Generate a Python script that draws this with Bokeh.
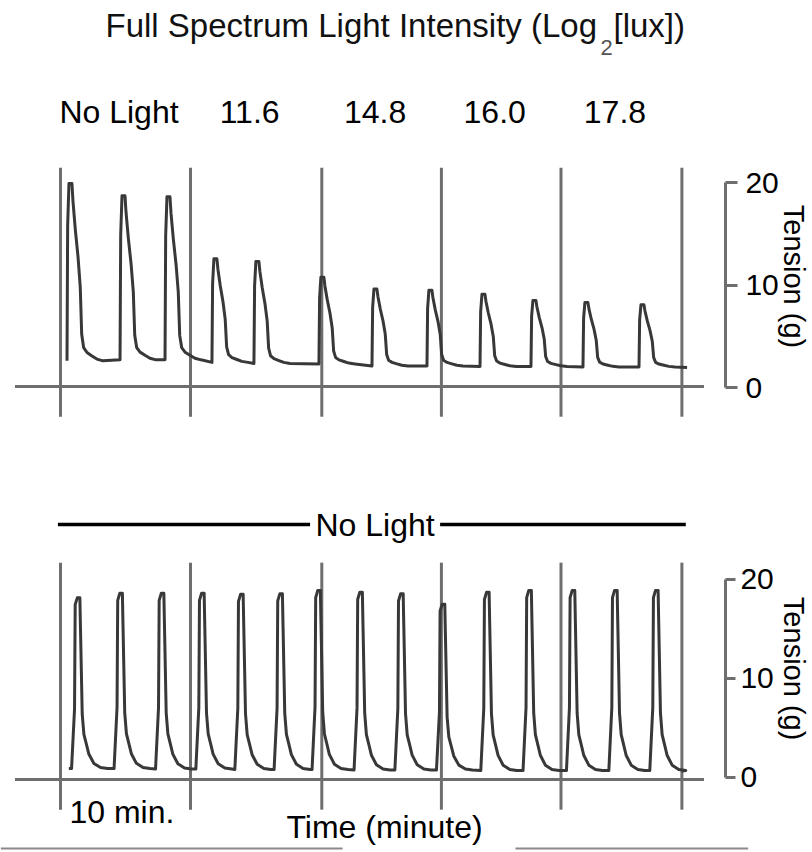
import math
from bokeh.plotting import figure
from bokeh.layouts import column
from bokeh.models import LinearAxis, FixedTicker, Range1d
from bokeh.core.properties import value
from bokeh.embed import file_html
from bokeh.resources import INLINE

# ---------------- data ----------------
title_main = "Full Spectrum Light Intensity (Log"
title_sub = "2"
title_tail = "[lux])"
light_labels = ["No Light", "11.6", "14.8", "16.0", "17.8"]
light_changes = [0.0, 10.0, 20.1, 29.3, 38.5, 47.8]      # minutes
tension_ticks = [0, 10, 20]                               # g

# top panel: light-intensity series
top_onsets = [0.5, 4.58, 8.04, 11.65, 14.88, 19.88, 23.96, 28.19, 32.27, 36.19, 40.19, 44.5]
top_peaks = [19.9, 18.7, 18.6, 12.55, 12.3, 10.76, 9.6, 9.5, 9.1, 8.5, 8.3, 8.07]
top_rests = [2.6, 2.7, 2.7, 2.45, 2.35, 2.3, 2.1, 2.1, 2.05, 2.05, 2.0, 2.0]
top_start = (0.5, 2.6)
top_end = (48.2, 1.95)

# bottom panel: no-light control series
bot_onsets = [0.85, 4.12, 7.31, 10.41, 13.41, 16.43, 19.35, 22.58, 25.72, 28.92,
              32.33, 35.58, 38.92, 42.18, 45.33]
bot_peaks = [18.15, 18.6, 18.6, 18.6, 18.5, 18.55, 18.9, 18.7, 18.55, 17.5,
             18.7, 18.9, 18.9, 18.9, 18.9]
bot_rests = [0.9, 0.9, 0.85, 0.85, 0.8, 0.8, 0.8, 0.75, 0.75, 0.75,
             0.7, 0.7, 0.7, 0.7, 0.7]
bot_start = (0.64, 0.9)
bot_end = (47.8, 0.65)

# twitch profile (minutes after onset, fraction of amplitude)
top_shape_dt = [0, 0.05, 0.15, 0.38, 0.46, 0.64, 0.85, 1.02, 1.13, 1.28, 1.54, 1.92, 2.3, 2.77]
top_shape_fr = [0, 0.76, 1.0, 1.0, 0.9, 0.74, 0.585, 0.415, 0.15, 0.075, 0.047, 0.028, 0.01, 0]
bot_shape_dt = [0, 0.23, 0.28, 0.44, 0.64, 0.69, 0.82, 0.95, 1.15, 1.33, 1.72, 2.23, 2.77]
bot_shape_fr = [0, 0.35, 0.96, 1.0, 1.0, 0.81, 0.32, 0.2, 0.14, 0.085, 0.03, 0.006, 0]

# ---------------- styling / layout ----------------
FONT = value("Liberation Sans")
TRACE = "#383838"
GRAY = "#6e6e6e"
W = 810
PX_PER_MIN = 13.0
X0 = -60.0 / PX_PER_MIN
x_end = X0 + W / PX_PER_MIN
AXIS_X = 51.15
NUDGE = 11.0   # px: baseline correction for text glyphs
YLAB_X = 56.46  # x position of the rotated "Tension (g)" labels


def build_trace(onsets, peaks, rests, dts, frs, start, end):
    xs, ys = [start[0]], [start[1]]
    for on, pk, rs in zip(onsets, peaks, rests):
        for d, f in zip(dts, frs):
            xs.append(on + d)
            ys.append(rs + (pk - rs) * f)
    xs.append(end[0])
    ys.append(end[1])
    return xs, ys


def make_fig(height, y0, y1):
    p = figure(width=W, height=height, output_backend="svg", toolbar_location=None,
               tools="", x_axis_type=None, y_axis_type=None,
               x_range=Range1d(X0, x_end), y_range=Range1d(y0, y1),
               min_border=0, min_border_left=0, min_border_right=0,
               min_border_top=0, min_border_bottom=0)
    p.outline_line_color = None
    p.background_fill_color = "white"
    p.border_fill_color = "white"
    return p


def add_axis(p, tick_out, standoff):
    ax = LinearAxis(fixed_location=AXIS_X, bounds=(0, 20),
                    ticker=FixedTicker(ticks=tension_ticks))
    ax.axis_line_color = GRAY
    ax.axis_line_width = 3
    ax.major_tick_line_color = GRAY
    ax.major_tick_line_width = 3
    ax.major_tick_in = 0
    ax.major_tick_out = tick_out
    ax.minor_tick_line_color = None
    ax.major_label_text_font = "Liberation Sans"
    ax.major_label_text_font_size = "30px"
    ax.major_label_text_color = "black"
    ax.major_label_standoff = standoff
    p.add_layout(ax, "right")


def add_panel(p, xs, ys, lo, hi, base):
    p.segment(x0=light_changes, y0=[lo] * len(light_changes),
              x1=light_changes, y1=[hi] * len(light_changes),
              line_color=GRAY, line_width=3)
    p.segment(x0=[light_changes[0] - 3.5], y0=[base],
              x1=[light_changes[-1] + 1.7], y1=[base],
              line_color=GRAY, line_width=3)
    p.line(xs, ys, line_color=TRACE, line_width=3, line_join="round")


def htext(p, x, y, txt, size, align="left", color="black"):
    p.text(x=x, y=y, text=txt, text_font=FONT, text_font_size=value(size),
           text_color=color, text_align=align, text_baseline="alphabetic")


def vlabel(p, y):
    p.text(x=[YLAB_X], y=[y], text=["Tension (g)"], text_font=FONT,
           text_font_size=value("29px"), text_color="black", angle=-math.pi / 2,
           text_align="center", text_baseline="alphabetic")


# ---------------- top figure ----------------
H1 = 450
S1 = 10.25
p1 = make_fig(H1, -6.146, 37.756)
tx, ty = build_trace(top_onsets, top_peaks, top_rests, top_shape_dt, top_shape_fr,
                     top_start, top_end)
add_panel(p1, tx, ty, -2.85, 21.45, 0.1)
add_axis(p1, 12, 8)

d1 = NUDGE / S1
htext(p1, [3.46], [34.24 + d1], [title_main], "33px", color="#111111")
htext(p1, [41.54], [32.1 + d1], [title_sub], "22px", color="#555555")
htext(p1, [42.54], [34.24 + d1], [title_tail], "33px", color="#111111")

centers = [(a + b) / 2 - 0.5 for a, b in zip(light_changes[:-1], light_changes[1:])]
htext(p1, centers, [25.76 + d1] * len(centers), light_labels, "32px", align="center")
vlabel(p1, 10.83)

# ---------------- bottom figure ----------------
H2 = 400
S2 = 9.9
p2 = make_fig(H2, -7.374, 33.03)
bx, by = build_trace(bot_onsets, bot_peaks, bot_rests, bot_shape_dt, bot_shape_fr,
                     bot_start, bot_end)
add_panel(p2, bx, by, -3.25, 21.7, -0.2)
add_axis(p2, 10, 5)

d2 = NUDGE / S2
mid = (light_changes[0] + light_changes[-1]) / 2 + 0.3
p2.segment(x0=[light_changes[0] - 0.2, mid + 5.0], y0=[25.56, 25.56],
           x1=[mid - 5.0, light_changes[-1] + 0.3], y1=[25.56, 25.56],
           line_color="black", line_width=3.5)
htext(p2, [mid], [24.44 + d2], ["No Light"], "32px", align="center")
vlabel(p2, 11.0)
htext(p2, [light_changes[0] + 0.69], [-4.55 + d2], ["10 min."], "32px")
htext(p2, [17.38], [-6.16 + d2], ["Time (minute)"], "32px")
p2.segment(x0=[-4.6, 35.0], y0=[-7.17, -7.17], x1=[21.7, 52.9], y1=[-7.17, -7.17],
           line_color="#8a8a8a", line_width=2)

layout = column(p1, p2, spacing=0)
open("out.html", "w").write(file_html(layout, INLINE))
